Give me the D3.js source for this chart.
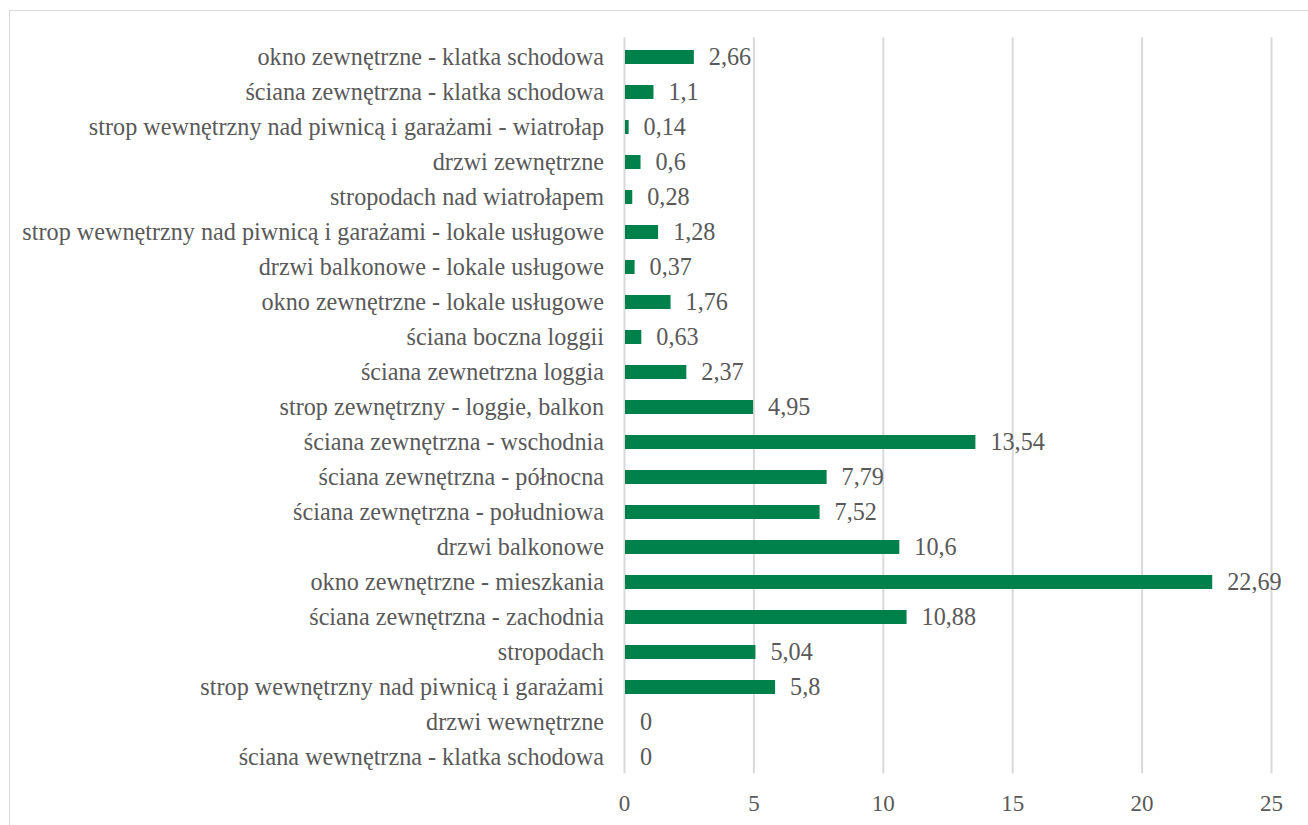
<!DOCTYPE html>
<html>
<head>
<meta charset="utf-8">
<script src="https://cdn.jsdelivr.net/npm/d3@7"></script>
</head>
<body style="margin:0;padding:0;background:#fff">
<svg id="chart" width="1308" height="825" style="display:block" font-family="Liberation Serif"></svg>
<script>
// Building envelope elements, listed top to bottom as displayed
const categories = [
  "okno zewnętrzne - klatka schodowa",
  "ściana zewnętrzna - klatka schodowa",
  "strop wewnętrzny nad piwnicą i garażami - wiatrołap",
  "drzwi zewnętrzne",
  "stropodach nad wiatrołapem",
  "strop wewnętrzny nad piwnicą i garażami - lokale usługowe",
  "drzwi balkonowe - lokale usługowe",
  "okno zewnętrzne - lokale usługowe",
  "ściana boczna loggii",
  "ściana zewnetrzna loggia",
  "strop zewnętrzny - loggie, balkon",
  "ściana zewnętrzna - wschodnia",
  "ściana zewnętrzna - północna",
  "ściana zewnętrzna - południowa",
  "drzwi balkonowe",
  "okno zewnętrzne - mieszkania",
  "ściana zewnętrzna - zachodnia",
  "stropodach",
  "strop wewnętrzny nad piwnicą i garażami",
  "drzwi wewnętrzne",
  "ściana wewnętrzna - klatka schodowa"
];
const values = [2.66, 1.1, 0.14, 0.6, 0.28, 1.28, 0.37, 1.76, 0.63, 2.37, 4.95,
                13.54, 7.79, 7.52, 10.6, 22.69, 10.88, 5.04, 5.8, 0, 0];
const tickValues = [0, 5, 10, 15, 20, 25];

const FONT = "Liberation Serif";
const TEXT_COLOR = "#595959";
const LABEL_SIZE = 24.2;

const svg = d3.select("#chart");

// outer frame of the chart area
svg.append("rect")
  .attr("x", 9.5).attr("y", 10.5)
  .attr("width", 1320).attr("height", 840)
  .attr("fill", "none").attr("stroke", "#d9d9d9").attr("stroke-width", 1);

const plot = { left: 624, right: 1271, top: 39.5, bottom: 774.5 };

const x = d3.scaleLinear().domain([0, 25]).range([plot.left, plot.right]);
const y = d3.scaleBand().domain(categories).range([plot.top, plot.bottom]).paddingInner(0.6).paddingOuter(0.3);

// vertical gridlines
svg.append("g")
  .selectAll("line")
  .data(tickValues)
  .join("line")
  .attr("x1", d => x(d) + 0.5).attr("x2", d => x(d) + 0.5)
  .attr("y1", plot.top - 2).attr("y2", plot.bottom - 1)
  .attr("stroke", "#d9d9d9").attr("stroke-width", 2);

// x axis tick labels
const xAxis = d3.axisBottom(x).tickValues(tickValues).tickSize(0).tickPadding(0).tickFormat(d3.format("d"));
const gx = svg.append("g").attr("transform", `translate(0, ${plot.bottom + 36})`).call(xAxis);
gx.attr("font-family", FONT).attr("font-size", 23);
gx.select(".domain").remove();
gx.selectAll("text")
  .attr("dy", "0")
  .attr("font-family", FONT)
  .attr("font-size", 23)
  .attr("fill", TEXT_COLOR);

// category labels
const yAxis = d3.axisLeft(y).tickSize(0).tickPadding(20);
const gy = svg.append("g").attr("transform", `translate(${plot.left}, 0)`).call(yAxis);
gy.attr("font-family", FONT).attr("font-size", LABEL_SIZE);
gy.select(".domain").remove();
gy.selectAll("text")
  .attr("dy", "0.35em")
  .attr("font-family", FONT)
  .attr("font-size", LABEL_SIZE)
  .attr("fill", TEXT_COLOR);

// bars
svg.append("g")
  .selectAll("rect")
  .data(values)
  .join("rect")
  .attr("x", x(0) + 1)
  .attr("y", (d, i) => y(categories[i]))
  .attr("width", d => Math.max(0, x(d) - x(0)))
  .attr("height", y.bandwidth())
  .attr("fill", "#00804a");

// value labels
const fmt = v => String(v).replace(".", ",");
svg.append("g")
  .selectAll("text")
  .data(values)
  .join("text")
  .attr("x", d => x(d) + 16)
  .attr("y", (d, i) => y(categories[i]) + y.bandwidth() / 2)
  .attr("dy", "0.35em")
  .attr("font-family", FONT)
  .attr("font-size", LABEL_SIZE)
  .attr("fill", TEXT_COLOR)
  .text(d => fmt(d));
</script>
</body>
</html>
